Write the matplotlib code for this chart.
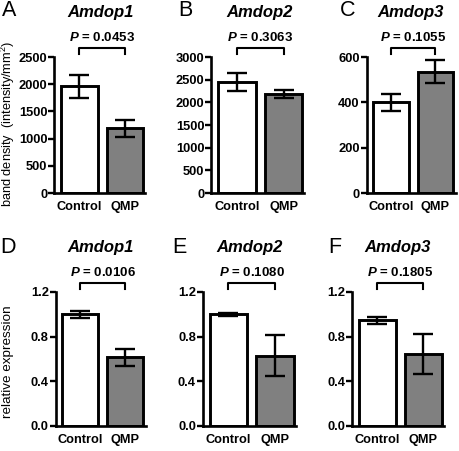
import matplotlib
matplotlib.use('Agg')
import matplotlib.pyplot as plt
import matplotlib.transforms as mtransforms

plt.rcParams['font.family'] = ['Liberation Sans', 'DejaVu Sans']
plt.rcParams['mathtext.fontset'] = 'custom'
plt.rcParams['mathtext.bfit'] = 'Liberation Sans:italic:bold'
plt.rcParams['mathtext.it'] = 'Liberation Sans:italic'
plt.rcParams['mathtext.bf'] = 'Liberation Sans:bold'
plt.rcParams['mathtext.rm'] = 'Liberation Sans'

# data ------------------------------------------
groups = ['Control', 'QMP']
genes = ['Amdop1', 'Amdop2', 'Amdop3']

band_mean = [[1960, 1190], [2450, 2180], [400, 535]]
band_err = [[215, 155], [195, 95], [38, 50]]
band_p = ['0.0453', '0.3063', '0.1055']
band_ticks = [[0, 500, 1000, 1500, 2000, 2500],
              [0, 500, 1000, 1500, 2000, 2500, 3000],
              [0, 200, 400, 600]]

rel_mean = [[1.0, 0.615], [1.0, 0.63], [0.945, 0.645]]
rel_err = [[0.033, 0.077], [0.015, 0.185], [0.03, 0.18]]
rel_p = ['0.0106', '0.1080', '0.1805']
rel_ticks = [0.0, 0.4, 0.8, 1.2]
rel_ticklabels = ['0.0', '0.4', '0.8', '1.2']

letters = ['A', 'B', 'C', 'D', 'E', 'F']
bar_colors = ['white', '#808080']

# layout (pixels) --------------------------------
W, H = 460, 451
fig = plt.figure(figsize=(W / 100, H / 100), dpi=100)

def fx(x):
    return x / W

def fy(y):
    return 1 - y / H

# (first bar centre, spacing) per panel
top_geo = [(79.5, 45.5), (237, 46.5), (391, 44.5)]
bot_geo = [(80.5, 45), (228.5, 46.5), (377.5, 46)]
top_y = (57, 193)
bot_y = (292, 426)
xl = (-0.55, 1.45)

title_x_top = [101, 260, 411]
title_x_bot = [101, 250, 398]
letter_x_top = [2, 178, 340]
letter_x_bot = [0, 172, 328]


def panel(c0, s, yr, means, errs, ticks, ticklabels, pval, ymax):
    left = c0 + xl[0] * s
    width = (xl[1] - xl[0]) * s
    ax = fig.add_axes([fx(left), fy(yr[1]), fx(width), (yr[1] - yr[0]) / H])
    ax.bar([0, 1], means, width=0.8, color=bar_colors, edgecolor='black',
           linewidth=2.1, zorder=2)
    ax.errorbar([0, 1], means, yerr=errs, fmt='none', ecolor='black',
                elinewidth=1.7, capsize=7, capthick=1.7, zorder=3)
    ax.set_xlim(*xl)
    ax.set_ylim(0, ymax)
    ax.set_yticks(ticks)
    ax.set_yticklabels(ticklabels, fontweight='bold', fontsize=9.3)
    ax.set_xticks([0, 1])
    ax.set_xticklabels(groups, fontweight='bold', fontsize=9.2)
    ax.tick_params(axis='x', length=0, pad=6)
    ax.tick_params(axis='y', length=4, width=1.7, pad=1)
    for sp in ['top', 'right']:
        ax.spines[sp].set_visible(False)
    for sp in ['left', 'bottom']:
        ax.spines[sp].set_linewidth(1.9)
    ax.patch.set_alpha(0)
    # bracket + p value
    hpx = yr[1] - yr[0]
    tr = mtransforms.blended_transform_factory(ax.transData, ax.transAxes)
    yb_hi = 1 + 9 / hpx
    yb_lo = 1 + 3 / hpx
    ax.plot([0, 0, 1, 1], [yb_lo, yb_hi, yb_hi, yb_lo], color='black',
            lw=1.5, transform=tr, clip_on=False)
    ax.text(0.5, 1 + 20 / hpx, r'$\mathbfit{P}$ = ' + pval, transform=tr,
            ha='center', va='center', fontsize=9.5, fontweight='bold')
    return ax


for i in range(3):
    c0, s = top_geo[i]
    panel(c0, s, top_y, band_mean[i], band_err[i], band_ticks[i],
          [str(t) for t in band_ticks[i]], band_p[i], band_ticks[i][-1])
    fig.text(fx(title_x_top[i]), fy(13), genes[i], ha='center', va='center',
             fontsize=12, fontweight='bold', fontstyle='italic')
    fig.text(fx(letter_x_top[i]), fy(11), letters[i], ha='left', va='center',
             fontsize=15.5)

for i in range(3):
    c0, s = bot_geo[i]
    panel(c0, s, bot_y, rel_mean[i], rel_err[i], rel_ticks, rel_ticklabels,
          rel_p[i], 1.2)
    fig.text(fx(title_x_bot[i]), fy(247), genes[i], ha='center', va='center',
             fontsize=12, fontweight='bold', fontstyle='italic')
    fig.text(fx(letter_x_bot[i]), fy(247), letters[i + 3], ha='left',
             va='center', fontsize=15.5)

fig.text(fx(8), fy(124), 'band density  (intensity/mm$^2$)', rotation=90,
         ha='center', va='center', fontsize=9.2)
fig.text(fx(8), fy(362), 'relative expression', rotation=90,
         ha='center', va='center', fontsize=9.7)

fig.savefig('out.png', dpi=100)
